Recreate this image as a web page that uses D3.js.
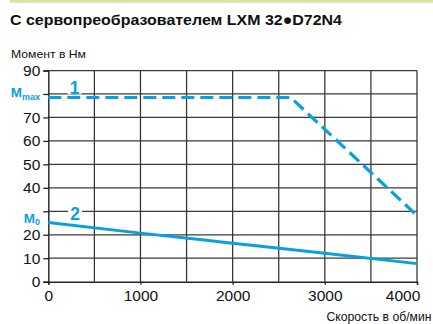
<!DOCTYPE html>
<html><head><meta charset="utf-8">
<script src="https://cdn.jsdelivr.net/npm/d3@7"></script>
<style>
body{margin:0;background:#fff;}
svg{display:block;}
</style></head>
<body>
<svg id="c" width="433" height="324"></svg>
<script>
const title = "С сервопреобразователем LXM 32●D72N4";
const yTitle = "Момент в Нм";
const xTitle = "Скорость в об/мин";
const xTicks = [0, 1000, 2000, 3000, 4000];
const xGrid = [500, 1000, 1500, 2000, 2500, 3000, 3500, 4000];
const yGrid = [10, 20, 30, 40, 50, 60, 70, 80, 90];
const yTickLabels = [0, 10, 20, 40, 50, 60, 70, 90];
// Curve 1: peak torque (dashed)
const speed1 = [0, 2630, 4000];
const torque1 = [78.5, 78.5, 28.2];
// Curve 2: continuous torque (solid)
const speed2 = [0, 1000, 2000, 3000, 4000];
const torque2 = [25.2, 20.7, 16.4, 12.1, 7.7];
const mMax = 78.5, m0 = 25.2;
const curveLabels = ["1", "2"];

const blue = "#0a9fe0";
const svg = d3.select("#c");
const font = "'Liberation Sans', Arial, sans-serif";
const narrow = "'Liberation Sans Narrow', 'Liberation Sans', Arial, sans-serif";

svg.append("line").attr("x1",10).attr("x2",433).attr("y1",1.2).attr("y2",1.2)
  .attr("stroke","#d6e5a6").attr("stroke-width",3);

svg.append("text").attr("x",10).attr("y",25).text(title)
  .attr("font-family",font).attr("font-weight","bold").attr("font-size",15.5)
  .attr("textLength",332).attr("lengthAdjust","spacingAndGlyphs").attr("fill","#111");

svg.append("text").attr("x",11).attr("y",57.5).text(yTitle)
  .attr("font-family",narrow).attr("font-size",11.5)
  .attr("textLength",75).attr("lengthAdjust","spacingAndGlyphs").attr("fill","#111");

const x = d3.scaleLinear().domain([0,4000]).range([48.3,417]);
const y = d3.scaleLinear().domain([0,90]).range([281.7,70.5]);

const g = svg.append("g");
g.selectAll(".gy").data(yGrid).join("line")
  .attr("x1",x(0)).attr("x2",x(4000)).attr("y1",d=>y(d)).attr("y2",d=>y(d))
  .attr("stroke","#3a3a3a").attr("stroke-width",1.25);
g.selectAll(".gx").data(xGrid).join("line")
  .attr("x1",d=>x(d)).attr("x2",d=>x(d)).attr("y1",y(0)).attr("y2",y(90))
  .attr("stroke","#333").attr("stroke-width",1.25);

// axes
const yAxis = d3.axisLeft(y).tickValues(yGrid.concat([0])).tickSize(5).tickPadding(3)
  .tickFormat(d => yTickLabels.includes(d) ? d3.format("d")(d) : "");
const ya = svg.append("g").attr("transform",`translate(${x(0)},0)`).call(yAxis);
ya.select(".domain").attr("stroke","#222").attr("stroke-width",1.4);
ya.selectAll(".tick line").attr("stroke","#222").attr("stroke-width",1.3);
ya.selectAll(".tick text").attr("font-family",font).attr("font-size",15.5).attr("fill","#111");

const xAxis = d3.axisBottom(x).tickValues(xTicks).tickSize(3).tickPadding(5).tickFormat(d3.format("d"));
const xa = svg.append("g").attr("transform",`translate(0,${y(0)})`).call(xAxis);
xa.select(".domain").attr("stroke","#222").attr("stroke-width",1.4);
xa.selectAll(".tick line").attr("stroke","#222").attr("stroke-width",1.3);
xa.selectAll(".tick text").attr("font-family",font).attr("font-size",15.5).attr("fill","#111");
xa.selectAll(".tick text").filter(d => d === 4000).attr("x", -14.5);

svg.append("text").attr("x",431.5).attr("y",320.5).attr("text-anchor","end").text(xTitle)
  .attr("font-family",narrow).attr("font-size",12)
  .attr("textLength",105).attr("lengthAdjust","spacingAndGlyphs").attr("fill","#111");

// lines
const line = d3.line().x(d=>x(d[0])).y(d=>y(d[1]));
const line2 = d3.line().x(d=>x(d[0])).y(d=>y(d[1])).curve(d3.curveMonotoneX);
svg.append("path").datum(d3.zip(speed1,torque1)).attr("d",line)
  .attr("fill","none").attr("stroke",blue).attr("stroke-width",3.2)
  .attr("stroke-dasharray","13,6");
svg.append("path").datum(d3.zip(speed2,torque2)).attr("d",line2)
  .attr("fill","none").attr("stroke",blue).attr("stroke-width",3);

// curve number labels with white background
function num(t, xv, yv){
  const bx = x(xv), by = y(yv);
  svg.append("rect").attr("x",bx-7).attr("y",by-14).attr("width",14).attr("height",14).attr("fill","#fff");
  svg.append("text").attr("x",bx).attr("y",by).attr("text-anchor","middle").text(t)
    .attr("font-family",font).attr("font-weight","bold").attr("font-size",17.5).attr("fill",blue);
}
num(curveLabels[0], 285, 79.9);
num(curveLabels[1], 290, 26.1);

// M labels
function mlab(sub, v){
  const t = svg.append("text").attr("x",40).attr("y",y(v)).attr("text-anchor","end")
    .attr("font-family",font).attr("font-weight","bold").attr("fill",blue);
  t.append("tspan").text("M").attr("font-size",13.5);
  t.append("tspan").text(sub).attr("font-size",9).attr("dy",2.5);
}
mlab("max", mMax);
mlab("0", m0);
</script>
</body></html>
